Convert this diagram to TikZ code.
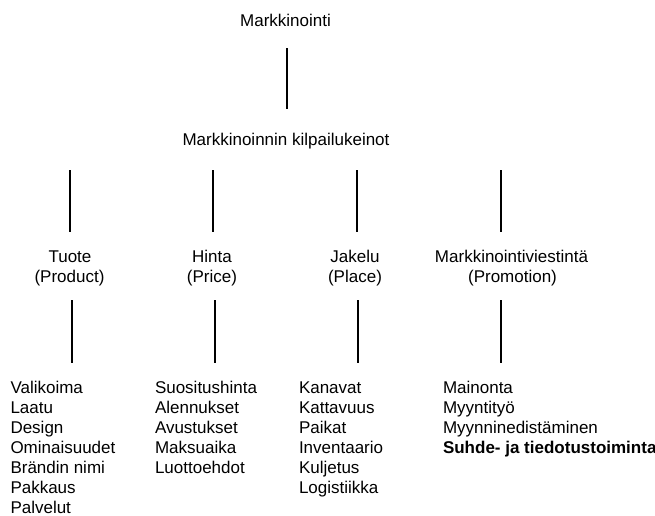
\documentclass[tikz,border=0pt]{standalone}
\usepackage{fontspec}
\setmainfont{Liberation Sans}
\usetikzlibrary{calc}
\begin{document}
\begin{tikzpicture}[x=1pt,y=-1pt,
  txt/.style={inner sep=0pt,outer sep=0pt,font=\fontsize{17}{20}\selectfont},
  conn/.style={line width=2.6pt}]
\useasboundingbox (0,0) rectangle (655,515);
% top
\node[txt,anchor=base] (m) at (285.5,26) {Markkinointi};
\node[txt,anchor=base] (k) at (286,145) {Markkinoinnin kilpailukeinot};
% headers
\node[txt,anchor=base] (h1) at (70,262.5) {Tuote};
\node[txt,anchor=base] (p1) at (69.5,282.5) {(Product)};
\node[txt,anchor=base] (h2) at (212,262.5) {Hinta};
\node[txt,anchor=base] (p2) at (212,282.5) {(Price)};
\node[txt,anchor=base] (h3) at (355,262.5) {Jakelu};
\node[txt,anchor=base] (p3) at (355,282.5) {(Place)};
\node[txt,anchor=base] (h4) at (511.5,262.5) {Markkinointiviestintä};
\node[txt,anchor=base] (p4) at (512.5,282.5) {(Promotion)};
% lists
\foreach \t [count=\i] in {Valikoima,Laatu,Design,Ominaisuudet,Brändin nimi,Pakkaus,Palvelut}
  \node[txt,anchor=base west] (ta\i) at (10.5,{393+20*(\i-1)}) {\t};
\foreach \t [count=\i] in {Suositushinta,Alennukset,Avustukset,Maksuaika,Luottoehdot}
  \node[txt,anchor=base west] (hb\i) at (155,{393+20*(\i-1)}) {\t};
\foreach \t [count=\i] in {Kanavat,Kattavuus,Paikat,Inventaario,Kuljetus,Logistiikka}
  \node[txt,anchor=base west] (ja\i) at (299,{393+20*(\i-1)}) {\t};
\foreach \t [count=\i] in {Mainonta,Myyntityö,Myynninedistäminen,{\textbf{Suhde- ja tiedotustoiminta}}}
  \node[txt,anchor=base west] (mv\i) at (443,{393+20*(\i-1)}) {\t};
% column x positions for the connectors
\coordinate (x0) at (287,0);
\coordinate (u1) at (70,0);
\coordinate (u2) at (213,0);
\coordinate (u3) at (357,0);
\coordinate (u4) at (501,0);
\coordinate (d1) at (72,0);
\coordinate (d2) at (215,0);
\coordinate (d3) at (358,0);
\coordinate (d4) at (501,0);
% connectors
\draw[conn] ($(m.base -| x0)+(0,22)$) -- ($(k.base -| x0)+(0,-36)$);
\foreach \i in {1,2,3,4}
  \draw[conn] ($(k.base -| u\i)+(0,25)$) -- ($(h\i.base -| u\i)+(0,-30.5)$);
\draw[conn] ($(p1.base -| d1)+(0,17.5)$) -- ($(ta1.base -| d1)+(0,-30)$);
\draw[conn] ($(p2.base -| d2)+(0,17.5)$) -- ($(hb1.base -| d2)+(0,-30)$);
\draw[conn] ($(p3.base -| d3)+(0,17.5)$) -- ($(ja1.base -| d3)+(0,-30)$);
\draw[conn] ($(p4.base -| d4)+(0,17.5)$) -- ($(mv1.base -| d4)+(0,-30)$);
\end{tikzpicture}
\end{document}
